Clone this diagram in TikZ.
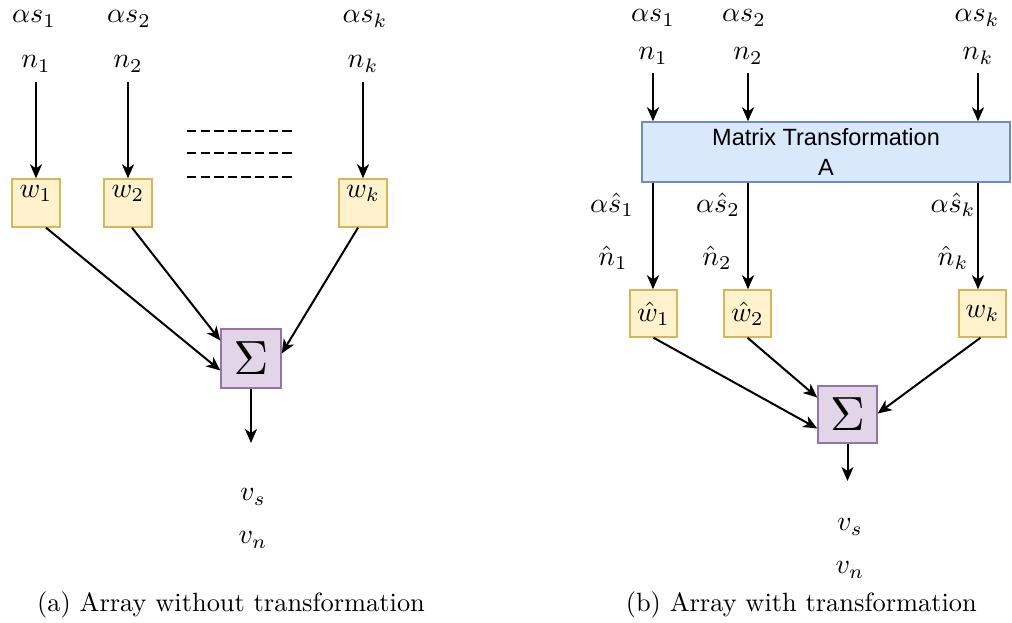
\documentclass[tikz,border=0pt]{standalone}
\usepackage{graphicx}
\usepackage{fontspec}
\newfontfamily\panelsans{Liberation Sans}
\usetikzlibrary{arrows.meta}

\definecolor{wfill}{HTML}{FFF2CC}
\definecolor{wdraw}{HTML}{D6B656}
\definecolor{sfill}{HTML}{E1D5E7}
\definecolor{sdraw}{HTML}{9673A6}
\definecolor{afill}{HTML}{DAE8FC}
\definecolor{adraw}{HTML}{6C8EBF}

% math labels: 10pt math enlarged as a whole
\newcommand{\ml}[1]{\scalebox{2.8}{$#1$}}
\newcommand{\bigsum}{\scalebox{4.8}{$\Sigma$}}
\newcommand{\capt}[1]{\scalebox{2.64}{#1}}

\tikzset{
  lbl/.style={font=\fontsize{10}{12}\selectfont, inner sep=1pt},
  inlbl/.style={lbl, outer ysep=9pt},
  wbox/.style={draw=wdraw, fill=wfill, line width=1.4pt, minimum width=48pt,
    minimum height=48pt, inner sep=0pt, font=\fontsize{10}{12}\selectfont},
  sumbox/.style={draw=sdraw, fill=sfill, line width=1.4pt, minimum width=60pt,
    minimum height=59pt, inner sep=0pt, font=\fontsize{10}{12}\selectfont},
  matbox/.style={draw=adraw, fill=afill, line width=1.4pt, minimum width=368pt,
    minimum height=60pt, inner sep=0pt, align=center,
    font=\panelsans\fontsize{23.5}{30}\selectfont},
  arr/.style={line width=2pt, -{Stealth[length=14pt,width=12pt,inset=4pt]}},
  link/.style={arr},
  dashrow/.style={line width=2.2pt, dash pattern=on 9.3pt off 4.3pt},
  caption/.style={font=\fontsize{10}{12}\selectfont, inner sep=0pt}
}

\begin{document}
\begin{tikzpicture}[x=1pt, y=-1pt]
\useasboundingbox (0,0) rectangle (1012,622);

% ---------- (a) array without transformation ----------
\node[lbl] (as1) at (34,19) {\ml{\alpha s_1}};
\node[lbl] (as2) at (129,19) {\ml{\alpha s_2}};
\node[lbl] (ask) at (365,19) {\ml{\alpha s_k}};
\node[inlbl] (n1) at (36,64) {\ml{n_1}};
\node[inlbl] (n2) at (128,64) {\ml{n_2}};
\node[inlbl] (nk) at (363,64) {\ml{n_k}};

\node[wbox] (w1) at (36,203) {};
\node[wbox] (w2) at (128,203) {};
\node[wbox] (wk) at (363,203) {};
\node[lbl, anchor=north] (w1t) at ([yshift=-6pt]w1.north) {\ml{w_1}};
\node[lbl, anchor=north] (w2t) at ([yshift=-6pt]w2.north) {\ml{w_2}};
\node[lbl, anchor=north] (wkt) at ([yshift=-6pt]wk.north) {\ml{w_k}};

\draw[arr] (n1) -- (w1);
\draw[arr] (n2) -- (w2);
\draw[arr] (nk) -- (wk);

\draw[dashrow] (187,131) -- (293,131);
\draw[dashrow] (187,153) -- (293,153);
\draw[dashrow] (187,177) -- (293,177);

\node[sumbox] (sig1) at (251,358.5) {\bigsum};
\draw[link] ([xshift=10pt]w1.south) -- ([yshift=-12pt]sig1.west);
\draw[link] ([xshift=4pt]w2.south) -- ([yshift=18pt]sig1.west);
\draw[link] ([xshift=-5pt]wk.south) -- ([yshift=5pt]sig1.east);

\coordinate (out1) at (251,443);
\draw[arr] (sig1.south) -- (out1);
\node[lbl] (vs1) at (253,497) {\ml{v_s}};
\node[lbl] (vn1) at (253,540) {\ml{v_n}};

\node[caption, anchor=base west] (capa) at (37,611) {\capt{(a) Array without transformation}};

% ---------- (b) array with transformation ----------
\node[lbl] (bas1) at (653,18) {\ml{\alpha s_1}};
\node[lbl] (bas2) at (744,18) {\ml{\alpha s_2}};
\node[lbl] (bask) at (977,18) {\ml{\alpha s_k}};
\node[lbl, outer ysep=8pt] (bn1) at (653,56) {\ml{n_1}};
\node[lbl, outer ysep=8pt] (bn2) at (748,56) {\ml{n_2}};
\node[lbl, outer ysep=8pt] (bnk) at (978,56) {\ml{n_k}};

\node[matbox] (A) at (826,152) {Matrix Transformation\\A};

\draw[arr] (bn1) -- (bn1 |- A.north);
\draw[arr] (bn2) -- (bn2 |- A.north);
\draw[arr] (bnk) -- (bnk |- A.north);

\node[wbox, minimum width=47pt, minimum height=47pt] (wh1) at (653.5,313.5) {\ml{\hat{w}_1}};
\node[wbox, minimum width=47pt, minimum height=47pt] (wh2) at (747.5,313.5) {\ml{\hat{w}_2}};
\node[wbox, minimum width=47pt, minimum height=47pt] (bwk) at (982.5,313.5) {\ml{w_k}};

\draw[arr] (bn1 |- A.south) -- (bn1 |- wh1.north);
\draw[arr] (bn2 |- A.south) -- (bn2 |- wh2.north);
\draw[arr] (bnk |- A.south) -- (bnk |- bwk.north);

\node[lbl] (has1) at (612,205) {\ml{\alpha\hat{s}_1}};
\node[lbl] (has2) at (718,205) {\ml{\alpha\hat{s}_2}};
\node[lbl] (hask) at (953,205) {\ml{\alpha\hat{s}_k}};
\node[lbl] (hn1) at (613,258) {\ml{\hat{n}_1}};
\node[lbl] (hn2) at (717,258) {\ml{\hat{n}_2}};
\node[lbl] (hnk) at (953,258) {\ml{\hat{n}_k}};

\node[sumbox, minimum width=59pt, minimum height=57pt] (sig2) at (847.5,414.5) {\bigsum};
\draw[link] (wh1.south) -- ([yshift=-14pt]sig2.west);
\draw[link] (wh2.south) -- ([yshift=17pt]sig2.west);
\draw[link] ([xshift=-2pt]bwk.south) -- ([yshift=1pt]sig2.east);

\coordinate (out2) at (847.5,481);
\draw[arr] (sig2.south) -- (out2);
\node[lbl] (vs2) at (850,527) {\ml{v_s}};
\node[lbl] (vn2) at (850,570) {\ml{v_n}};

\node[caption, anchor=base east] (capb) at (977,611) {\capt{(b) Array with transformation}};
\end{tikzpicture}
\end{document}
